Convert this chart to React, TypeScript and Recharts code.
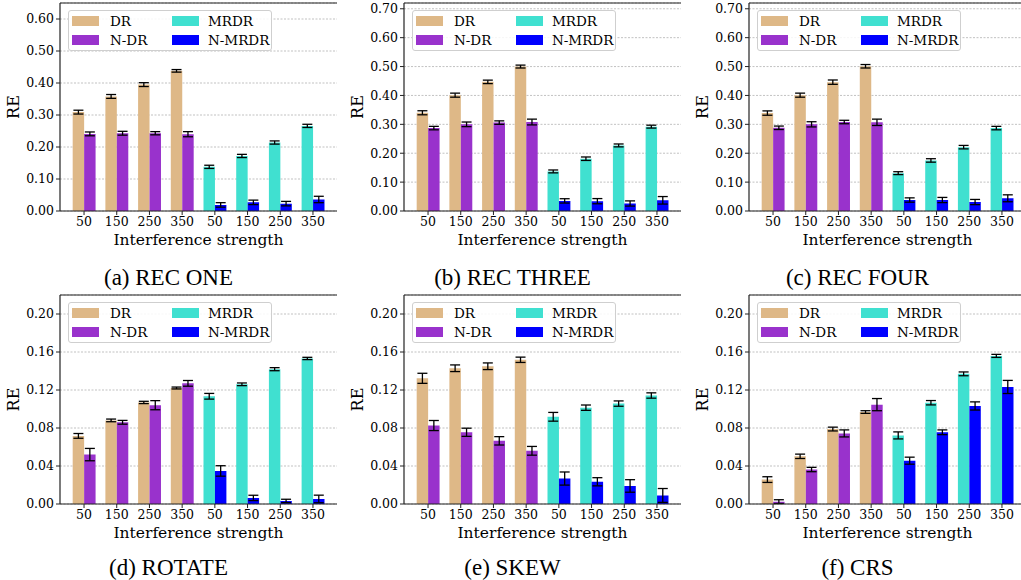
import React from "react";
import { Bar, BarChart, CartesianGrid, Cell, ErrorBar, Label, ReferenceLine, XAxis, YAxis } from "recharts";

const strengths = ["50", "150", "250", "350"];
const seriesNames = ["DR", "N-DR", "MRDR", "N-MRDR"];
const seriesColors = ["#deb887", "#9932cc", "#40e0d0", "#0000ff"];

// (a) REC ONE
const recOneDR = [0.309, 0.358, 0.395, 0.438];
const recOneDRErr = [0.006, 0.006, 0.006, 0.004];
const recOneNDR = [0.241, 0.243, 0.243, 0.24];
const recOneNDRErr = [0.006, 0.006, 0.005, 0.008];
const recOneMRDR = [0.138, 0.172, 0.214, 0.266];
const recOneMRDRErr = [0.005, 0.005, 0.005, 0.005];
const recOneNMRDR = [0.019, 0.027, 0.023, 0.036];
const recOneNMRDRErr = [0.007, 0.007, 0.007, 0.01];

// (b) REC THREE
const recThreeDR = [0.34, 0.401, 0.447, 0.5];
const recThreeDRErr = [0.007, 0.007, 0.006, 0.005];
const recThreeNDR = [0.287, 0.3, 0.306, 0.308];
const recThreeNDRErr = [0.006, 0.008, 0.006, 0.01];
const recThreeMRDR = [0.137, 0.181, 0.227, 0.292];
const recThreeMRDRErr = [0.005, 0.006, 0.005, 0.005];
const recThreeNMRDR = [0.035, 0.034, 0.026, 0.037];
const recThreeNMRDRErr = [0.0075, 0.009, 0.009, 0.013];

// (c) REC FOUR
const recFourDR = [0.339, 0.401, 0.446, 0.501];
const recFourDRErr = [0.0075, 0.007, 0.0075, 0.006];
const recFourNDR = [0.288, 0.3, 0.308, 0.307];
const recFourNDRErr = [0.006, 0.009, 0.006, 0.011];
const recFourMRDR = [0.131, 0.175, 0.221, 0.287];
const recFourMRDRErr = [0.005, 0.006, 0.006, 0.006];
const recFourNMRDR = [0.038, 0.038, 0.031, 0.044];
const recFourNMRDRErr = [0.0075, 0.009, 0.009, 0.012];

// (d) ROTATE
const rotateDR = [0.0717, 0.088, 0.1069, 0.1221];
const rotateDRErr = [0.0025, 0.0014, 0.0012, 0.001];
const rotateNDR = [0.052, 0.086, 0.104, 0.127];
const rotateNDRErr = [0.0065, 0.002, 0.0048, 0.003];
const rotateMRDR = [0.1134, 0.126, 0.1419, 0.1532];
const rotateMRDRErr = [0.003, 0.0014, 0.0016, 0.0012];
const rotateNMRDR = [0.0348, 0.0064, 0.0032, 0.0053];
const rotateNMRDRErr = [0.0055, 0.0028, 0.0018, 0.004];

// (e) SKEW
const skewDR = [0.1323, 0.1429, 0.145, 0.1518];
const skewDRErr = [0.0053, 0.0035, 0.0035, 0.0028];
const skewNDR = [0.0826, 0.0755, 0.0665, 0.056];
const skewNDRErr = [0.0053, 0.0043, 0.0044, 0.0046];
const skewMRDR = [0.0918, 0.1014, 0.1057, 0.1142];
const skewMRDRErr = [0.0046, 0.0028, 0.0028, 0.0028];
const skewNMRDR = [0.0268, 0.0234, 0.019, 0.009];
const skewNMRDRErr = [0.0069, 0.0043, 0.0066, 0.0073];

// (f) CRS
const crsDR = [0.0257, 0.0502, 0.0789, 0.0968];
const crsDRErr = [0.003, 0.0023, 0.002, 0.0014];
const crsNDR = [0.0025, 0.0363, 0.0743, 0.1046];
const crsNDRErr = [0.002, 0.0023, 0.0037, 0.0064];
const crsMRDR = [0.0722, 0.1066, 0.137, 0.1559];
const crsMRDRErr = [0.0037, 0.0023, 0.002, 0.0016];
const crsNMRDR = [0.0456, 0.0755, 0.1032, 0.1232];
const crsNMRDRErr = [0.0037, 0.0025, 0.0043, 0.0069];

const ticksRecOne = [0, 0.1, 0.2, 0.3, 0.4, 0.5, 0.6];
const ticksRec = [0, 0.1, 0.2, 0.3, 0.4, 0.5, 0.6, 0.7];
const ticksSmall = [0, 0.04, 0.08, 0.12, 0.16, 0.2];

type Spec = {
  caption: string;
  x: number;
  y: number;
  plotLeft: number;
  plotTop: number;
  plotBottom: number;
  yMax: number;
  ticks: number[];
  vals: number[][];
  errs: number[][];
};

const panels: Spec[] = [
  { caption: "(a) REC ONE", x: 0, y: 0, plotLeft: 60, plotTop: 3, plotBottom: 211, yMax: 0.65, ticks: ticksRecOne,
    vals: [recOneDR, recOneNDR, recOneMRDR, recOneNMRDR], errs: [recOneDRErr, recOneNDRErr, recOneMRDRErr, recOneNMRDRErr] },
  { caption: "(b) REC THREE", x: 340, y: 0, plotLeft: 64, plotTop: 3, plotBottom: 211, yMax: 0.72, ticks: ticksRec,
    vals: [recThreeDR, recThreeNDR, recThreeMRDR, recThreeNMRDR], errs: [recThreeDRErr, recThreeNDRErr, recThreeMRDRErr, recThreeNMRDRErr] },
  { caption: "(c) REC FOUR", x: 680, y: 0, plotLeft: 69, plotTop: 3, plotBottom: 211, yMax: 0.72, ticks: ticksRec,
    vals: [recFourDR, recFourNDR, recFourMRDR, recFourNMRDR], errs: [recFourDRErr, recFourNDRErr, recFourMRDRErr, recFourNMRDRErr] },
  { caption: "(d) ROTATE", x: 0, y: 290, plotLeft: 60, plotTop: 5, plotBottom: 214, yMax: 0.22, ticks: ticksSmall,
    vals: [rotateDR, rotateNDR, rotateMRDR, rotateNMRDR], errs: [rotateDRErr, rotateNDRErr, rotateMRDRErr, rotateNMRDRErr] },
  { caption: "(e) SKEW", x: 340, y: 290, plotLeft: 64, plotTop: 5, plotBottom: 214, yMax: 0.22, ticks: ticksSmall,
    vals: [skewDR, skewNDR, skewMRDR, skewNMRDR], errs: [skewDRErr, skewNDRErr, skewMRDRErr, skewNMRDRErr] },
  { caption: "(f) CRS", x: 680, y: 290, plotLeft: 69, plotTop: 5, plotBottom: 214, yMax: 0.22, ticks: ticksSmall,
    vals: [crsDR, crsNDR, crsMRDR, crsNMRDR], errs: [crsDRErr, crsNDRErr, crsMRDRErr, crsNMRDRErr] },
];

const buildRows = (spec: Spec) => {
  const rows: any[] = [];
  for (let g = 0; g < 2; g++) {
    strengths.forEach((s, i) => {
      rows.push({
        key: `g${g}-${s}`,
        left: spec.vals[g * 2][i],
        leftErr: spec.errs[g * 2][i],
        right: spec.vals[g * 2 + 1][i],
        rightErr: spec.errs[g * 2 + 1][i],
      });
    });
  }
  return rows;
};

const serif = "'DejaVu Serif', 'Liberation Serif', serif";
const times = "'Liberation Serif', 'Times New Roman', serif";
const axisColor = "#222";

const Panel = ({ spec }: { spec: Spec }) => {
  const rows = buildRows(spec);
  const plotW = 277;
  const pad = (plotW * (1 - 8 / 8.47)) / 2;
  const unit = (plotW - 2 * pad) / 8;
  const barSize = unit * 0.35;
  const chartW = spec.plotLeft + plotW + 2;
  const chartH = spec.plotBottom + 40;
  const plotH = spec.plotBottom - spec.plotTop;

  return (
    <div style={{ position: "absolute", left: spec.x, top: spec.y, width: 345, height: 290 }}>
      <BarChart
        width={chartW}
        height={chartH}
        data={rows}
        margin={{ top: spec.plotTop, right: 2, bottom: 0, left: 0 }}
        barGap={0}
        barSize={barSize}
        style={{ fontFamily: serif }}
      >
        <CartesianGrid vertical={false} stroke="#a8a8a8" strokeDasharray="2 1.5" strokeWidth={0.7} />
        <XAxis
          dataKey="key"
          interval={0}
          height={40}
          padding={{ left: pad, right: pad }}
          tickFormatter={(v: string) => v.split("-")[1]}
          tick={{ fill: "#000", fontSize: 12.5, style: { fontFamily: serif } }}
          tickSize={4}
          tickLine={{ stroke: axisColor }}
          axisLine={{ stroke: axisColor, strokeWidth: 1.2 }}
        >
          <Label
            value="Interference strength"
            position="insideBottom"
            offset={6}
            style={{ fill: "#000", fontSize: 15.5, fontFamily: serif }}
          />
        </XAxis>
        <YAxis
          width={spec.plotLeft}
          domain={[0, spec.yMax]}
          ticks={spec.ticks}
          allowDataOverflow
          tickFormatter={(v: number) => v.toFixed(2)}
          tick={{ fill: "#000", fontSize: 12.5, style: { fontFamily: serif } }}
          tickSize={4}
          tickLine={{ stroke: axisColor }}
          axisLine={{ stroke: axisColor, strokeWidth: 1.2 }}
        >
          <Label
            content={(props: any) => {
              const vb = props.viewBox || { x: 0, y: spec.plotTop, width: spec.plotLeft, height: plotH };
              const cx = vb.x + vb.width - 47;
              const cy = vb.y + vb.height / 2;
              return (
                <text
                  x={cx}
                  y={cy}
                  transform={`rotate(-90 ${cx} ${cy})`}
                  textAnchor="middle"
                  dominantBaseline="central"
                  fill="#000"
                  fontSize={16}
                  style={{ fontFamily: serif }}
                >
                  RE
                </text>
              );
            }}
          />
        </YAxis>
        <YAxis
          yAxisId="r"
          orientation="right"
          width={0}
          domain={[0, 1]}
          tick={false}
          tickLine={false}
          axisLine={{ stroke: axisColor, strokeWidth: 1.2 }}
        />
        <ReferenceLine y={spec.yMax} stroke={axisColor} strokeWidth={1.2} />
        <Bar dataKey="left" isAnimationActive={false}>
          {rows.map((_, i) => (
            <Cell key={i} fill={i < 4 ? seriesColors[0] : seriesColors[2]} />
          ))}
          <ErrorBar dataKey="leftErr" width={5} stroke="#000" strokeWidth={1.3} direction="y" />
        </Bar>
        <Bar dataKey="right" isAnimationActive={false}>
          {rows.map((_, i) => (
            <Cell key={i} fill={i < 4 ? seriesColors[1] : seriesColors[3]} />
          ))}
          <ErrorBar dataKey="rightErr" width={5} stroke="#000" strokeWidth={1.3} direction="y" />
        </Bar>
      </BarChart>

      <div
        style={{
          position: "absolute",
          left: spec.plotLeft + 8,
          top: spec.plotTop + 7,
          width: 204,
          height: 41,
          boxSizing: "border-box",
          border: "1px solid #cfcfcf",
          borderRadius: 3,
          background: "rgba(255,255,255,0.85)",
          fontFamily: serif,
          fontSize: 13.5,
        }}
      >
        {seriesNames.map((name, i) => {
          const col = Math.floor(i / 2);
          const row = i % 2;
          const cy = row === 0 ? 10 : 29;
          return (
            <React.Fragment key={name}>
              <div
                style={{
                  position: "absolute",
                  left: 3 + col * 100,
                  top: cy - 5,
                  width: 27,
                  height: 10,
                  background: seriesColors[i],
                }}
              />
              <div
                style={{
                  position: "absolute",
                  left: 41 + col * 98,
                  top: cy - 9,
                  lineHeight: "18px",
                  color: "#000",
                  whiteSpace: "nowrap",
                }}
              >
                {name}
              </div>
            </React.Fragment>
          );
        })}
      </div>

      <svg width={345} height={40} style={{ position: "absolute", left: 0, top: 255, overflow: "visible" }}>
        <text
          x={spec.plotLeft + plotW / 2 - 30}
          y={30}
          textAnchor="middle"
          fill="#000"
          fontSize={23}
          style={{ fontFamily: times }}
        >
          {spec.caption}
        </text>
      </svg>
    </div>
  );
};

export default function App() {
  return (
    <div
      style={{
        position: "absolute",
        left: 0,
        top: 0,
        width: 1021,
        height: 580,
        overflow: "hidden",
        background: "#fff",
        fontFamily: serif,
      }}
    >
      {panels.map((p) => (
        <Panel key={p.caption} spec={p} />
      ))}
    </div>
  );
}
